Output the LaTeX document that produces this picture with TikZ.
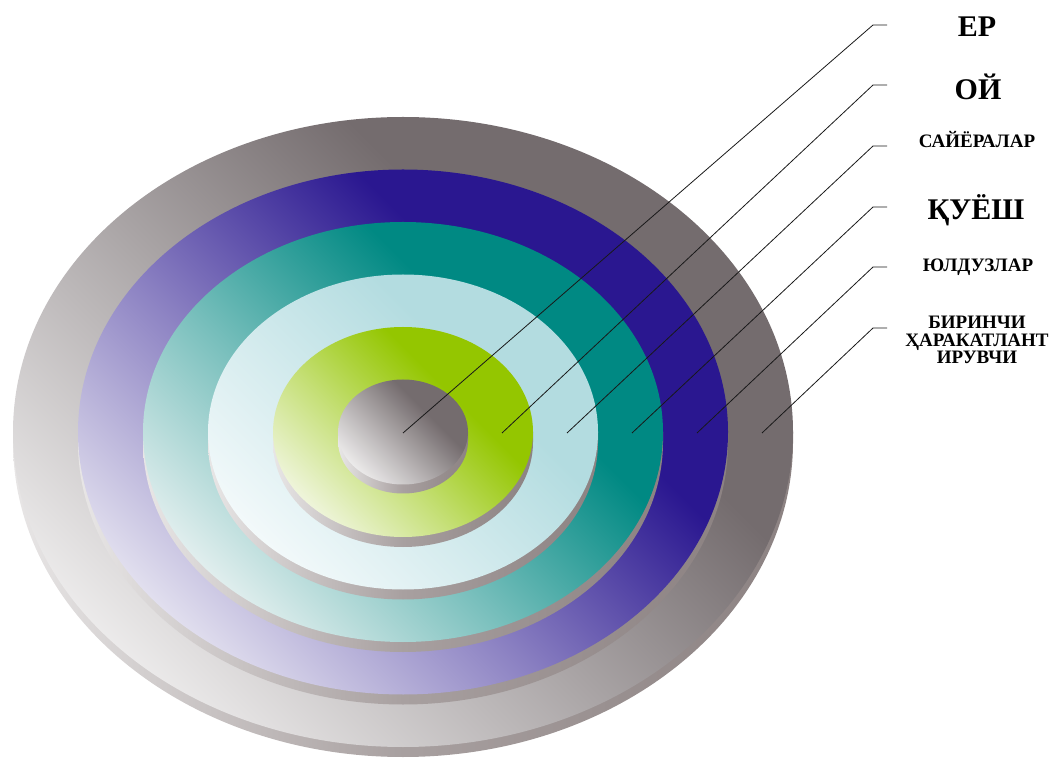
\documentclass[tikz,border=0pt]{standalone}
\usepackage{fontspec}
\setmainfont{Liberation Serif}

\definecolor{greydk}{HTML}{746C6E}
\definecolor{greylt}{HTML}{F4F3F3}
\definecolor{bluedk}{HTML}{2A1790}
\definecolor{bluelt}{HTML}{EEEDF5}
\definecolor{tealdk}{HTML}{008983}
\definecolor{teallt}{HTML}{F0F5F5}
\definecolor{skydk}{HTML}{B3DCE0}
\definecolor{skylt}{HTML}{F7FBFC}
\definecolor{greendk}{HTML}{94C600}
\definecolor{greenlt}{HTML}{F5F8EA}
\definecolor{edgelt}{HTML}{E8E6E6}
\definecolor{edgemd}{HTML}{A8A0A0}
\definecolor{edgedk}{HTML}{8C8282}
\colorlet{lt}{white}
\colorlet{dk}{black}
\pgfdeclareverticalshading[lt,dk]{ringshade}{100bp}{color(0bp)=(lt); color(22bp)=(lt); color(43bp)=(dk!50!lt); color(63bp)=(dk); color(100bp)=(dk)}

\begin{document}
\begin{tikzpicture}[
        x=1pt, y=1pt,
        wall/.style={left color=edgelt, right color=edgedk, middle color=edgemd},
        face/.style 2 args={/utils/exec={\colorlet{lt}{#1}\colorlet{dk}{#2}},
            shading=ringshade, shading angle=-45},
        leader/.style={draw=black!90, line width=0.8pt},
        bigtext/.style={font=\fontsize{30}{32}\selectfont\bfseries, anchor=base},
        smalltext/.style={font=\fontsize{19}{17.5}\selectfont\bfseries, anchor=base, align=center}
    ]
    \useasboundingbox (0,0) rectangle (1054,758);

    % Дисклар
    \coordinate (c) at (403,326);
    \shade[wall] (c) ++(-390,0) -- ++(0,-10) arc[start angle=180, end angle=360, x radius=390, y radius=315] -- ++(0,10) -- cycle;
    \shade[face={greylt}{greydk}] (c) ellipse[x radius=390, y radius=315];
    \shade[wall] (c) ++(-325,0) -- ++(0,-10) arc[start angle=180, end angle=360, x radius=325, y radius=262.5] -- ++(0,10) -- cycle;
    \shade[face={bluelt}{bluedk}] (c) ellipse[x radius=325, y radius=262.5];
    \shade[wall] (c) ++(-260,0) -- ++(0,-10) arc[start angle=180, end angle=360, x radius=260, y radius=210] -- ++(0,10) -- cycle;
    \shade[face={teallt}{tealdk}] (c) ellipse[x radius=260, y radius=210];
    \shade[wall] (c) ++(-195,0) -- ++(0,-10) arc[start angle=180, end angle=360, x radius=195, y radius=157.5] -- ++(0,10) -- cycle;
    \shade[face={skylt}{skydk}] (c) ellipse[x radius=195, y radius=157.5];
    \shade[wall] (c) ++(-130,0) -- ++(0,-10) arc[start angle=180, end angle=360, x radius=130, y radius=105] -- ++(0,10) -- cycle;
    \shade[face={greenlt}{greendk}] (c) ellipse[x radius=130, y radius=105];
    \shade[wall] (c) ++(-65,0) -- ++(0,-9) arc[start angle=180, end angle=360, x radius=65, y radius=52.5] -- ++(0,9) -- cycle;
    \shade[face={greylt}{greydk}] (c) ellipse[x radius=65, y radius=52.5];

    % Нуқталар
    \coordinate (d1) at (403,325);
    \coordinate (d2) at (502,325);
    \coordinate (d3) at (567,325);
    \coordinate (d4) at (632,325);
    \coordinate (d5) at (697,325);
    \coordinate (d6) at (762,325);
    \coordinate (k1) at (873,733);
    \coordinate (k2) at (873,673);
    \coordinate (k3) at (873,612);
    \coordinate (k4) at (873,551);
    \coordinate (k5) at (873,491);
    \coordinate (k6) at (873,430);
    \coordinate (e1) at (887,733);
    \coordinate (e2) at (887,673);
    \coordinate (e3) at (887,612);
    \coordinate (e4) at (887,551);
    \coordinate (e5) at (887,491);
    \coordinate (e6) at (887,430);

    % Ёзувлар
    \node[bigtext]   (lbl1) at (977,721) {ЕР};
    \node[bigtext]   (lbl2) at (978,658) {ОЙ};
    \node[smalltext] (lbl3) at (977,610) {САЙЁРАЛАР};
    \node[bigtext]   (lbl4) at (976,538) {ҚУЁШ};
    \node[smalltext] (lbl5) at (978,486) {ЮЛДУЗЛАР};
    \node[smalltext] (lbl6) at (977,394) {БИРИНЧИ\\ҲАРАКАТЛАНТ\\ИРУВЧИ};

    % Чизиқлар
    \draw[leader] (d1) -- (k1) -- (e1);
    \draw[leader] (d2) -- (k2) -- (e2);
    \draw[leader] (d3) -- (k3) -- (e3);
    \draw[leader] (d4) -- (k4) -- (e4);
    \draw[leader] (d5) -- (k5) -- (e5);
    \draw[leader] (d6) -- (k6) -- (e6);

    \end{tikzpicture}
\end{document}
